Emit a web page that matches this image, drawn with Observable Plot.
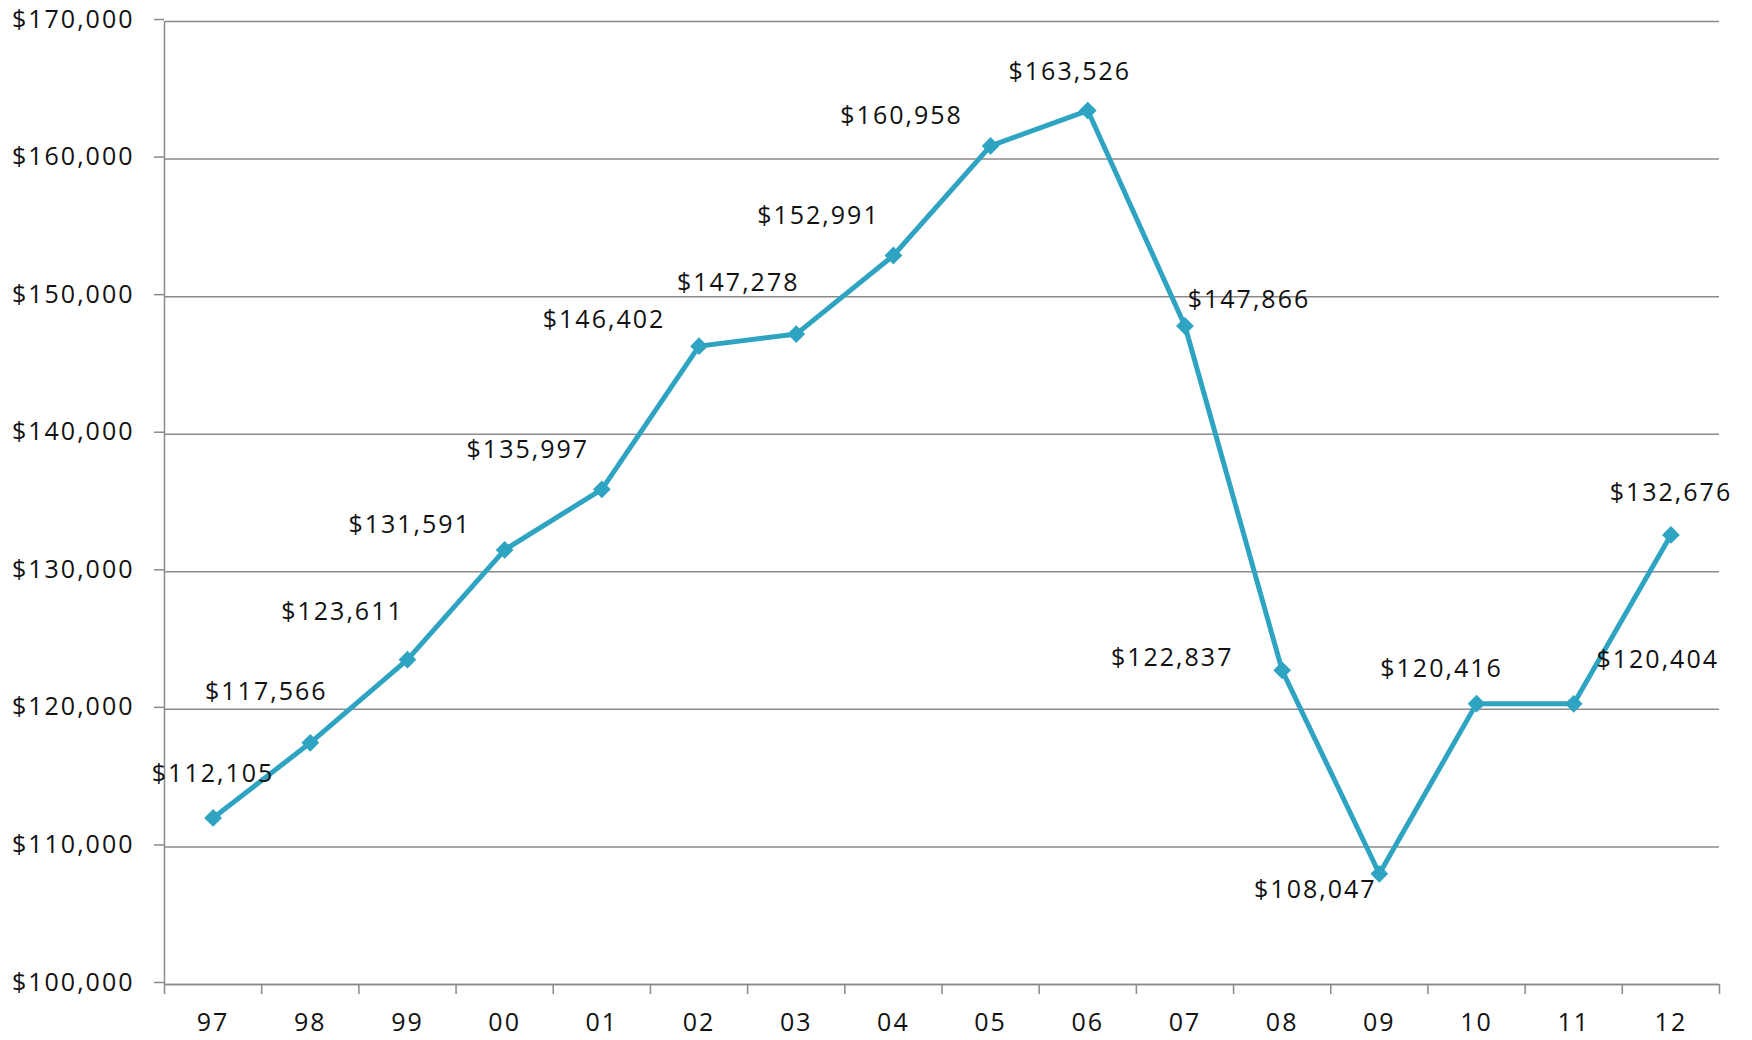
<!DOCTYPE html>
<html>
<head>
<meta charset="utf-8">
<script src="https://cdn.jsdelivr.net/npm/d3@7"></script>
<script src="https://cdn.jsdelivr.net/npm/@observablehq/plot@0.6"></script>
<style>
  html, body { margin: 0; padding: 0; background: #fff; }
  #chart svg { display: block; }
</style>
</head>
<body>
<div id="chart"></div>
<script>
const years = ["97","98","99","00","01","02","03","04","05","06","07","08","09","10","11","12"];
const values = [112105,117566,123611,131591,135997,146402,147278,152991,160958,163526,147866,122837,108047,120416,120404,132676];
const yTicks = [100000,110000,120000,130000,140000,150000,160000,170000];
// label offsets (px) relative to each point, as placed in the original
const labelDx = [0,-44,-65,-95,-74,-95,-58,-75,-89,-18,64,-110,-64,-35,84,0];
const labelDy = [-44,-51,-48,-25,-39,-26,-51,-39,-30,-39,-26,-12,16,-35,-44,-42];

const data = years.map((y, i) => ({i, year: y, value: values[i]}));
const fmt = d3.format("$,");
const lineColor = "#2fa4c2";
const font = "'Open Sans', sans-serif";
const fs = 25;

const labelMarks = data.map((d, k) => Plot.text([d], {
  x: "i", y: "value", text: v => fmt(v.value),
  dx: labelDx[k], dy: labelDy[k],
  fontSize: fs, fill: "#111", textAnchor: "middle"
}));

const chart = Plot.plot({
  width: 1752,
  height: 1040,
  marginLeft: 164,
  marginRight: 33,
  marginTop: 21,
  marginBottom: 56,
  style: {fontFamily: font, fontSize: fs + "px", color: "#111", background: "#fff", letterSpacing: "2px"},
  x: {type: "linear", domain: [-0.5, years.length - 0.5]},
  y: {domain: [100000, 170000]},
  marks: [
    Plot.gridY(yTicks, {stroke: "#8a8a8a", strokeOpacity: 1, strokeWidth: 1.5}),
    Plot.axisY(yTicks, {tickFormat: fmt, tickSize: 10, tickPadding: 20, stroke: "#8a8a8a", strokeWidth: 1.5, fontSize: fs, dy: -2, label: null, fill: "#111"}),
    Plot.ruleX([-0.5], {stroke: "#8a8a8a", strokeWidth: 1.5}),
    Plot.ruleY([100000], {stroke: "#8a8a8a", strokeWidth: 1.5}),
    Plot.axisX(d3.range(years.length + 1).map(i => i - 0.5), {tickFormat: () => "", tickSize: 10, stroke: "#8a8a8a", strokeWidth: 1.5, label: null}),
    Plot.axisX(d3.range(years.length), {tickFormat: i => years[i], tickSize: 0, tickPadding: 29, fontSize: fs, label: null, fill: "#111"}),
    Plot.line(data, {x: "i", y: "value", stroke: lineColor, strokeWidth: 5, strokeLinejoin: "miter"}),
    Plot.dot(data, {x: "i", y: "value", symbol: "diamond2", r: 8, fill: lineColor, stroke: "none"}),
    ...labelMarks
  ]
});
document.getElementById("chart").appendChild(chart);
</script>
</body>
</html>
